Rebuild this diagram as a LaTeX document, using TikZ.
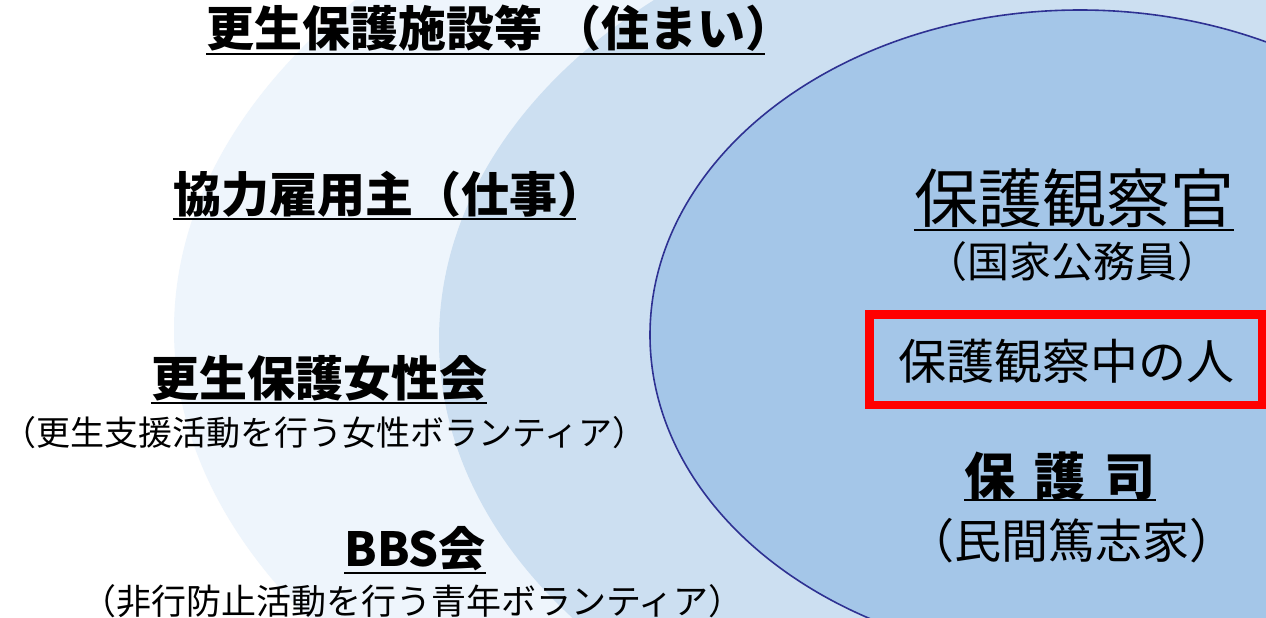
\documentclass[tikz,border=0pt]{standalone}
\usepackage{fontspec}
\newfontfamily\jp{Noto Sans CJK JP}
\definecolor{outerc}{HTML}{EEF5FC}
\definecolor{midc}{HTML}{CCDFF1}
\definecolor{innerc}{HTML}{A4C6E8}
\definecolor{navy}{HTML}{2E3192}
\definecolor{boxred}{HTML}{FF0000}
\begin{document}
\begin{tikzpicture}[x=1pt,y=-1pt,
  lbl/.style={inner sep=0pt, anchor=base},
  ulline/.style={line width=2.6pt, black},
  redbox/.style={draw=boxred, line width=8.5pt}]
\useasboundingbox (0,0) rectangle (1266,618);
\fill[white] (0,0) rectangle (1266,618);
\begin{scope}
\clip (0,0) rectangle (1266,618);
\fill[outerc] (1080,330) ellipse [x radius=906pt, y radius=550pt];
\fill[midc] (1080,340) ellipse [x radius=641pt, y radius=455pt];
\filldraw[fill=innerc, draw=navy, line width=1.6pt] (1080,335) ellipse [x radius=430pt, y radius=325pt];
\end{scope}

% left labels
\node[lbl, font={\jp\bfseries\fontsize{48}{52}\selectfont}] (t1) at (500,47) {更生保護施設等 （住まい）};
\draw[ulline] ([yshift=-7pt]t1.base west) -- ([yshift=-7pt,xshift=-29pt]t1.base east);

\node[lbl, font={\jp\bfseries\fontsize{48}{52}\selectfont}] (t2) at (389,212) {協力雇用主（仕事）};
\draw[ulline] ([yshift=-7pt]t2.base west) -- ([yshift=-7pt,xshift=-29pt]t2.base east);

\node[lbl, font={\jp\bfseries\fontsize{48}{52}\selectfont}] (t3) at (319,396) {更生保護女性会};
\draw[ulline] ([yshift=-7pt]t3.base west) -- ([yshift=-7pt]t3.base east);
\node[lbl, font={\jp\fontsize{34}{40}\selectfont}] (t3s) at (324,445) {（更生支援活動を行う女性ボランティア）};

\node[lbl, font={\jp\bfseries\fontsize{47}{52}\selectfont}] (t4) at (415,566) {BBS会};
\draw[ulline] ([yshift=-7pt]t4.base west) -- ([yshift=-7pt]t4.base east);
\node[lbl, font={\jp\fontsize{35}{40}\selectfont}] (t4s) at (412.5,614) {（非行防止活動を行う青年ボランティア）};

% right labels
\node[lbl, font={\jp\fontsize{64}{70}\selectfont}] (r1) at (1074,222) {保護観察官};
\draw[ulline] ([yshift=-8pt]r1.base west) -- ([yshift=-8pt]r1.base east);
\node[lbl, font={\jp\fontsize{42}{46}\selectfont}] (r1s) at (1072,277) {（国家公務員）};

\node[lbl, font={\jp\fontsize{48}{54}\selectfont}] (p) at (1066,379) {保護観察中の人};
\node[redbox, minimum width=392.5pt, minimum height=90.5pt, inner sep=0pt] (pbox) at (1065.75,359.75) {};

\node[lbl, font={\jp\bfseries\fontsize{51}{56}\selectfont}] (r2) at (1060,495) {保\hspace{0.37em}護\hspace{0.37em}司};
\draw[ulline] ([yshift=-5pt]r2.base west) -- ([yshift=-5pt]r2.base east);
\node[lbl, font={\jp\fontsize{47}{50}\selectfont}] (r2s) at (1072,558) {（民間篤志家）};
\end{tikzpicture}
\end{document}
